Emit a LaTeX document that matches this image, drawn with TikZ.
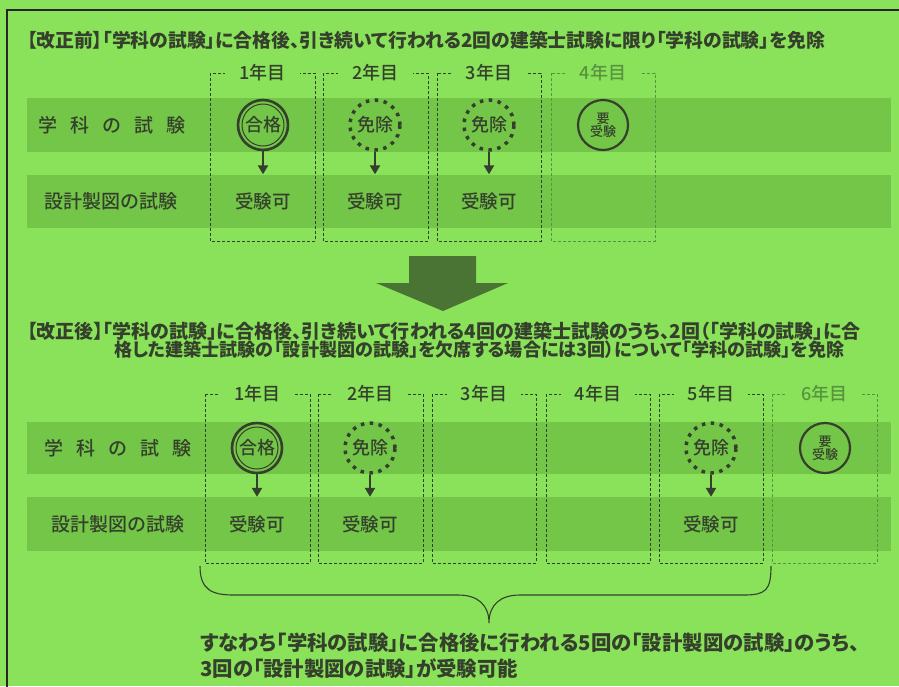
\documentclass[tikz,border=0pt]{standalone}
\usepackage{fontspec}
\setmainfont{Noto Sans CJK JP}[RawFeature=+palt]
\newfontfamily\jpmed{Noto Sans CJK JP Medium}[RawFeature=+palt]
\usetikzlibrary{arrows.meta}
\definecolor{bggreen}{RGB}{138,226,90}
\definecolor{bandgreen}{RGB}{116,198,72}
\definecolor{ink}{RGB}{52,64,44}
\definecolor{faded}{RGB}{88,148,62}
\definecolor{bigarrow}{RGB}{74,116,52}
\newcommand{\jpsize}[1]{\jpmed\fontsize{#1}{#1}\selectfont}

\tikzset{
	band/.style={fill=bandgreen},
	rowlbl/.style={text=ink, font=\jpsize{19}},
	yearlbl/.style={fill=bggreen, inner xsep=14pt, inner ysep=1pt, font=\jpsize{18}},
	colbox/.style={dash pattern=on 3pt off 2pt, line width=0.7pt},
	passmark/.style={circle, draw=ink, line width=2.6pt, minimum size=50pt, inner sep=0pt,
		text=ink, font=\jpsize{18},
		path picture={\draw[ink, line width=1pt] (path picture bounding box.center) circle (21pt);}},
	exemptmark/.style={circle, draw=ink, line width=3.5pt, dash pattern=on 3.5pt off 5.5pt,
		minimum size=50pt, inner sep=0pt, text=ink, font=\jpsize{18}},
	needmark/.style={circle, draw=ink, line width=2.2pt, minimum size=50pt, inner sep=0pt,
		align=center, text=ink, font=\jpsize{13}},
	oklbl/.style={minimum height=54pt, inner sep=0pt, text=ink, font=\jpsize{18.5}},
	down/.style={ink, line width=2.6pt, -{Triangle[width=10pt,length=9pt]}},
	heading/.style={anchor=west, inner sep=0pt, text=ink}
}

\newcommand{\yearcol}[7] % name, left, right, top, bottom, label, colour
{
	% dashed column
	\draw[colbox, #7] (#2,#4) rectangle (#3,#5);
	% year label over the top edge
	\node[yearlbl, text=#7] (#1) at ({(#2+#3)/2},#4) {#6};
}

\begin{document}
\begin{tikzpicture}[x=1pt, y=-1pt]
	% page: 899 x 686
	\fill[bggreen] (0,0) rectangle (899,686);
	\useasboundingbox (0,0) rectangle (899,686);
	\clip (0,0) rectangle (899,686);
	\draw[line width=1.5pt, black!85] (7,700) -- (7,10) -- (910,10);

	% before the revision
	\node[heading, font=\bfseries\fontsize{18.85}{19}\selectfont] (titleA) at (27,40) {【改正前】「学科の試験」に合格後、引き続いて行われる2回の建築士試験に限り「学科の試験」を免除};
	\fill[band] (27,98) rectangle (891,152);
	\fill[band] (27,175) rectangle (891,228);
	\node[rowlbl] (subjA) at (112,125) {学\hspace{13pt}科\hspace{13pt}の\hspace{13pt}試\hspace{13pt}験};
	\node[rowlbl] (drawA) at (111,201.5) {設計製図の試験};
	\yearcol{yA1}{210}{315}{73}{241}{1年目}{ink};
	\yearcol{yA2}{323}{428}{73}{241}{2年目}{ink};
	\yearcol{yA3}{437}{541}{73}{241}{3年目}{ink};
	\yearcol{yA4}{551}{655}{73}{241}{4年目}{faded};
	\node[passmark] (passA1) at (263,125) {合格};
	\node[exemptmark] (freeA2) at (375,125) {免除};
	\node[exemptmark] (freeA3) at (489,125) {免除};
	\node[needmark] (needA4) at (603,125) {要\\受験};
	\node[oklbl] (okA1) at (263,201.5) {受験可};
	\node[oklbl] (okA2) at (375,201.5) {受験可};
	\node[oklbl] (okA3) at (489,201.5) {受験可};
	\draw[down] (passA1) -- (okA1);
	\draw[down] (freeA2) -- (okA2);
	\draw[down] (freeA3) -- (okA3);

	% big arrow
	\fill[bigarrow] (409,256) -- (476,256) -- (476,283) -- (508,283) -- (443,311)
		-- (376,283) -- (409,283) -- cycle;

	% after the revision
	\node[heading, font=\bfseries\fontsize{19}{19}\selectfont] (titleB1) at (27,331) {【改正後】「学科の試験」に合格後、引き続いて行われる4回の建築士試験のうち、2回（「学科の試験」に合};
	\node[heading, font=\bfseries\fontsize{18.1}{19}\selectfont] (titleB2) at (114,350) {格した建築士試験の「設計製図の試験」を欠席する場合には3回）について「学科の試験」を免除};
	\fill[band] (27,422) rectangle (891,474);
	\fill[band] (27,497) rectangle (891,551);
	\node[rowlbl] (subjB) at (118,448) {学\hspace{13pt}科\hspace{13pt}の\hspace{13pt}試\hspace{13pt}験};
	\node[rowlbl] (drawB) at (118,524) {設計製図の試験};
	\yearcol{yB1}{205}{310}{394}{563}{1年目}{ink};
	\yearcol{yB2}{318}{423}{394}{563}{2年目}{ink};
	\yearcol{yB3}{432}{536}{394}{563}{3年目}{ink};
	\yearcol{yB4}{546}{650}{394}{563}{4年目}{ink};
	\yearcol{yB5}{659}{763}{394}{563}{5年目}{ink};
	\yearcol{yB6}{772}{877}{394}{563}{6年目}{faded};
	\node[passmark] (passB1) at (257,448) {合格};
	\node[exemptmark] (freeB2) at (370,448) {免除};
	\node[exemptmark] (freeB5) at (711,448) {免除};
	\node[needmark] (needB6) at (825,448) {要\\受験};
	\node[oklbl] (okB1) at (257,524) {受験可};
	\node[oklbl] (okB2) at (370,524) {受験可};
	\node[oklbl] (okB5) at (711,524) {受験可};
	\draw[down] (passB1) -- (okB1);
	\draw[down] (freeB2) -- (okB2);
	\draw[down] (freeB5) -- (okB5);

	% brace under years 1-5
	\coordinate (braceL) at (200,566);
	\coordinate (braceTip) at (489,623);
	\coordinate (braceR) at (771,566);
	\draw[ink, line width=1.1pt] (braceL) .. controls (200,590) and (212,595) .. (234,595)
		-- (458,595) .. controls (478,595) and (489,605) .. (braceTip)
		.. controls (489,605) and (500,595) .. (520,595)
		-- (744,595) .. controls (766,595) and (771,590) .. (braceR);
	\node[anchor=west, align=left, inner sep=0pt, text=ink, font=\bfseries\fontsize{20.4}{26}\selectfont] (summary) at (200,656)
		{すなわち「学科の試験」に合格後に行われる5回の「設計製図の試験」のうち、\\3回の「設計製図の試験」が受験可能};
\end{tikzpicture}
\end{document}
